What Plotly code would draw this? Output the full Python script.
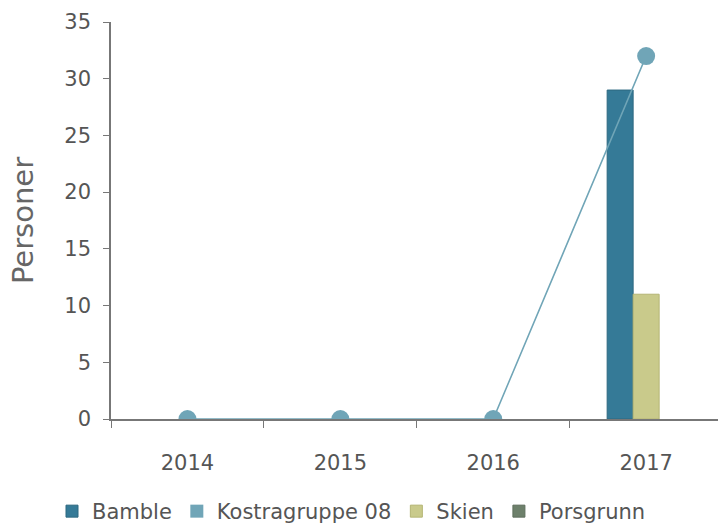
import plotly.graph_objects as go

years = ["2014", "2015", "2016", "2017"]
bamble = [None, None, None, 29]
skien = [None, None, None, 11]
porsgrunn = [None, None, None, None]
kostra = [0, 0, 0, 32]

c_bamble = "#357a97"
c_kostra = "#70a5b7"
c_skien = "#c9ca8b"
c_pors = "#6d806b"

fnt = "DejaVu Sans, Verdana, sans-serif"

fig = go.Figure()
fig.add_trace(go.Bar(x=years, y=bamble, name="Bamble", marker_color=c_bamble,
                     marker_line=dict(color="#2d6880", width=1), legendrank=1))
fig.add_trace(go.Bar(x=years, y=skien, name="Skien", marker_color=c_skien,
                     marker_line=dict(color="#b4b574", width=1), legendrank=3))
fig.add_trace(go.Bar(x=years, y=porsgrunn, name="Porsgrunn", marker_color=c_pors,
                     marker_line=dict(color="#5e6e5c", width=1), legendrank=4))
fig.add_trace(go.Scatter(x=years, y=kostra, name="Kostragruppe 08", mode="lines+markers",
                         line=dict(color=c_kostra, width=1.6),
                         marker=dict(size=18, color=c_kostra), showlegend=False))
# legend entry with a square symbol for the line series
fig.add_trace(go.Scatter(x=[None], y=[None], name="Kostragruppe 08", mode="markers",
                         marker=dict(symbol="square", size=13, color=c_kostra),
                         legendrank=2))

fig.update_layout(
    width=718, height=527,
    margin=dict(l=111, r=0, t=22, b=108, autoexpand=False),
    paper_bgcolor="white", plot_bgcolor="white",
    font=dict(family=fnt, size=21, color="#555555"),
    barmode="group", bargap=0.49, bargroupgap=0,
    showlegend=True,
    legend=dict(orientation="h", xref="container", yref="container",
                x=52 / 718, xanchor="left", y=1 - 491 / 527, yanchor="top",
                font=dict(size=21, color="#555555"), itemwidth=30,
                traceorder="normal"),
)
fig.update_xaxes(
    type="category", range=[-0.5, 3.47], automargin=False,
    showline=True, linecolor="#777777", linewidth=1.5,
    ticks="outside", tickson="boundaries", ticklen=7, tickcolor="#777777",
    showgrid=False, zeroline=False, ticklabelstandoff=24,
    tickfont=dict(size=21, color="#555555"),
)
fig.update_yaxes(
    range=[0, 35], dtick=5, automargin=False,
    showline=True, linecolor="#777777", linewidth=1.5,
    ticks="outside", ticklen=6, tickcolor="#777777",
    showgrid=False, zeroline=False, ticklabelstandoff=8,
    tickfont=dict(size=21, color="#555555"),
    title=dict(text="Personer", font=dict(size=29, color="#666666"), standoff=22),
)

fig.write_html("out.html", config={"displayModeBar": False},
               post_script="document.body.style.margin='0';document.body.style.overflow='hidden';")
